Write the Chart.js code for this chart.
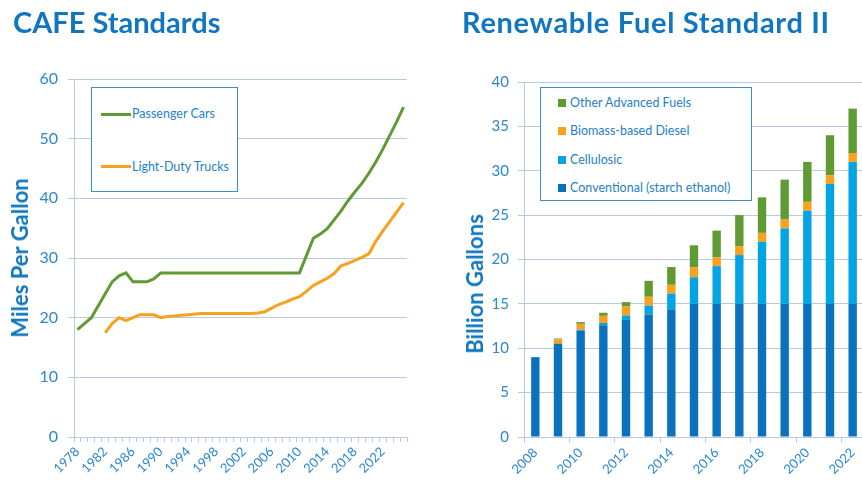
<!DOCTYPE html>
<html>
<head>
<meta charset="utf-8">
<script src="https://cdn.jsdelivr.net/npm/chart.js@4.4.1/dist/chart.umd.min.js"></script>
<style>
  html, body { margin: 0; padding: 0; background: #fff; width: 862px; height: 481px; overflow: hidden; }
  body { position: relative; font-family: Lato, sans-serif; }
  canvas { position: absolute; top: 0; }
  .title { position: absolute; font-weight: bold; font-size: 29px; line-height: 29px; color: #0f76bf; white-space: nowrap; }
  .ytitle { position: absolute; font-weight: bold; font-size: 22px; line-height: 22px; color: #0f76bf; white-space: nowrap;
            transform: translate(-50%, -50%) rotate(-90deg); }
  .legend { position: absolute; background: #fff; border: 1px solid #3b8fd0; box-sizing: border-box; }
  .legend .item { position: absolute; font-size: 12.5px; line-height: 14px; color: #1f80c8; white-space: nowrap; }
  .legend .mark { position: absolute; }
</style>
</head>
<body>
<canvas id="cafe" width="430" height="481" style="left:0"></canvas>
<canvas id="rfs" width="430" height="481" style="left:440px"></canvas>

<div class="title" style="left:13px; top:7px">CAFE Standards</div>
<div class="title" style="left:462px; top:7px; letter-spacing:0.7px">Renewable Fuel Standard II</div>
<div class="ytitle" style="left:20px; top:258px">Miles Per Gallon</div>
<div class="ytitle" style="left:475px; top:284px">Billion Gallons</div>

<div class="legend" id="cafeLegend" style="left:91px; top:87px; width:147px; height:105px"></div>
<div class="legend" id="rfsLegend" style="left:540px; top:87px; width:212px; height:114px"></div>

<script>
// setup data block
const cafeYears = ['1978', '1979', '1980', '1981', '1982', '1983', '1984', '1985', '1986', '1987', '1988', '1989',
  '1990', '1991', '1992', '1993', '1994', '1995', '1996', '1997', '1998', '1999', '2000', '2001', '2002', '2003',
  '2004', '2005', '2006', '2007', '2008', '2009', '2010', '2011', '2012', '2013', '2014', '2015', '2016', '2017',
  '2018', '2019', '2020', '2021', '2022', '2023', '2024', '2025'];

const passengerCars = [18, 19, 20, 22, 24, 26, 27, 27.5, 26, 26, 26, 26.5,
  27.5, 27.5, 27.5, 27.5, 27.5, 27.5, 27.5, 27.5, 27.5, 27.5, 27.5, 27.5, 27.5, 27.5,
  27.5, 27.5, 27.5, 27.5, 27.5, 27.5, 27.5, 30.4, 33.3, 34.0, 34.9, 36.4, 37.9, 39.6,
  41.1, 42.5, 44.2, 46.1, 48.2, 50.5, 52.8, 55.3];

const lightTrucks = [null, null, null, null, 17.5, 19.0, 20.0, 19.5, 20.0, 20.5, 20.5, 20.5,
  20.0, 20.2, 20.3, 20.4, 20.5, 20.6, 20.7, 20.7, 20.7, 20.7, 20.7, 20.7, 20.7, 20.7,
  20.8, 21.0, 21.6, 22.2, 22.6, 23.1, 23.5, 24.4, 25.4, 26.0, 26.6, 27.4, 28.7, 29.1,
  29.6, 30.1, 30.7, 32.8, 34.5, 36.1, 37.7, 39.3];

const rfsYears = ['2008', '2009', '2010', '2011', '2012', '2013', '2014', '2015',
  '2016', '2017', '2018', '2019', '2020', '2021', '2022'];
const conventional = [9.0, 10.5, 12.0, 12.6, 13.2, 13.8, 14.4, 15, 15, 15, 15, 15, 15, 15, 15];
const cellulosic = [0, 0, 0.1, 0.25, 0.5, 1.0, 1.75, 3.0, 4.25, 5.5, 7.0, 8.5, 10.5, 13.5, 16.0];
const biomassDiesel = [0, 0.5, 0.65, 0.8, 1.0, 1.0, 1.0, 1.1, 1.0, 1.0, 1.0, 1.0, 1.0, 1.0, 1.0];
const otherAdvanced = [0, 0.1, 0.2, 0.35, 0.5, 1.8, 2.0, 2.5, 3.0, 3.5, 4.0, 4.5, 4.5, 4.5, 5.0];

// config block
const green = '#5f9a33';
const orange = '#f7a11c';
const darkBlue = '#0a72bd';
const lightBlue = '#02a4e4';
const gridColor = '#b8c9e6';
const tickColor = '#2a88cf';

const cafeData = {
  labels: cafeYears,
  datasets: [
    { label: 'Passenger Cars', data: passengerCars, borderColor: green, borderWidth: 3, pointRadius: 0 },
    { label: 'Light-Duty Trucks', data: lightTrucks, borderColor: orange, borderWidth: 3, pointRadius: 0 },
  ],
};

const rfsData = {
  labels: rfsYears,
  datasets: [
    { label: 'Conventional (starch ethanol)', data: conventional, backgroundColor: darkBlue },
    { label: 'Cellulosic', data: cellulosic, backgroundColor: lightBlue },
    { label: 'Biomass-based Diesel', data: biomassDiesel, backgroundColor: orange },
    { label: 'Other Advanced Fuels', data: otherAdvanced, backgroundColor: green },
  ],
};

const cafeConfig = {
  type: 'line',
  data: cafeData,
  options: {
    responsive: false,
    animation: false,
    layout: { padding: { left: 0, right: 23, top: 79, bottom: 0 } },
    plugins: { legend: { display: false }, tooltip: { enabled: false } },
    scales: {
      x: {
        offset: true,
        grid: { offset: true, drawOnChartArea: false, color: gridColor, tickLength: 5 },
        border: { color: gridColor },
        ticks: {
          autoSkip: false, minRotation: 45, maxRotation: 45, padding: 2,
          color: tickColor, font: { family: 'Lato', size: 13 },
          callback: function (v, i) { return i % 4 === 0 ? this.getLabelForValue(v) : ''; },
        },
        afterFit: s => { s.height = 44; },
      },
      y: {
        min: 0, max: 60,
        grid: { color: gridColor, tickLength: 6 },
        border: { color: gridColor },
        ticks: { stepSize: 10, padding: 10, color: tickColor, font: { family: 'Lato', size: 16 } },
        afterFit: s => { s.width = 74; },
      },
    },
  },
};

const rfsConfig = {
  type: 'bar',
  data: rfsData,
  options: {
    responsive: false,
    animation: false,
    barPercentage: 0.37,
    categoryPercentage: 1,
    layout: { padding: { left: 0, right: 6, top: 82, bottom: 0 } },
    plugins: { legend: { display: false }, tooltip: { enabled: false } },
    scales: {
      x: {
        stacked: true,
        grid: {
          offset: true, drawOnChartArea: false, color: gridColor, tickLength: 6,
          tickColor: ctx => (ctx.index % 2 === 0 ? gridColor : 'rgba(0,0,0,0)'),
        },
        border: { color: gridColor },
        ticks: {
          autoSkip: false, minRotation: 45, maxRotation: 45, padding: 2,
          color: tickColor, font: { family: 'Lato', size: 13 },
          callback: function (v, i) { return i % 2 === 0 ? this.getLabelForValue(v) : ''; },
        },
        afterFit: s => { s.height = 44; },
      },
      y: {
        stacked: true,
        min: 0, max: 40,
        grid: { color: gridColor, tickLength: 6 },
        border: { color: gridColor },
        ticks: { stepSize: 5, padding: 9, color: tickColor, font: { family: 'Lato', size: 15 } },
        afterFit: s => { s.width = 84; },
      },
    },
  },
};

// init render block
new Chart(document.getElementById('cafe'), cafeConfig);
new Chart(document.getElementById('rfs'), rfsConfig);

// legends (boxed, inside plot) built from the datasets
const cafeLegend = document.getElementById('cafeLegend');
cafeData.datasets.forEach((ds, i) => {
  const cy = 26 + i * 52.5;
  cafeLegend.insertAdjacentHTML('beforeend',
    `<div class="mark" style="left:9px; top:${cy - 1.5}px; width:30px; height:3px; background:${ds.borderColor}"></div>` +
    `<div class="item" style="left:40px; top:${cy - 7}px">${ds.label}</div>`);
});

const rfsLegend = document.getElementById('rfsLegend');
rfsData.datasets.slice().reverse().forEach((ds, i) => {
  const cy = 14.5 + i * 28.5;
  rfsLegend.insertAdjacentHTML('beforeend',
    `<div class="mark" style="left:17px; top:${cy - 4}px; width:8px; height:8px; background:${ds.backgroundColor}"></div>` +
    `<div class="item" style="left:29px; top:${cy - 7}px">${ds.label}</div>`);
});
</script>
</body>
</html>
